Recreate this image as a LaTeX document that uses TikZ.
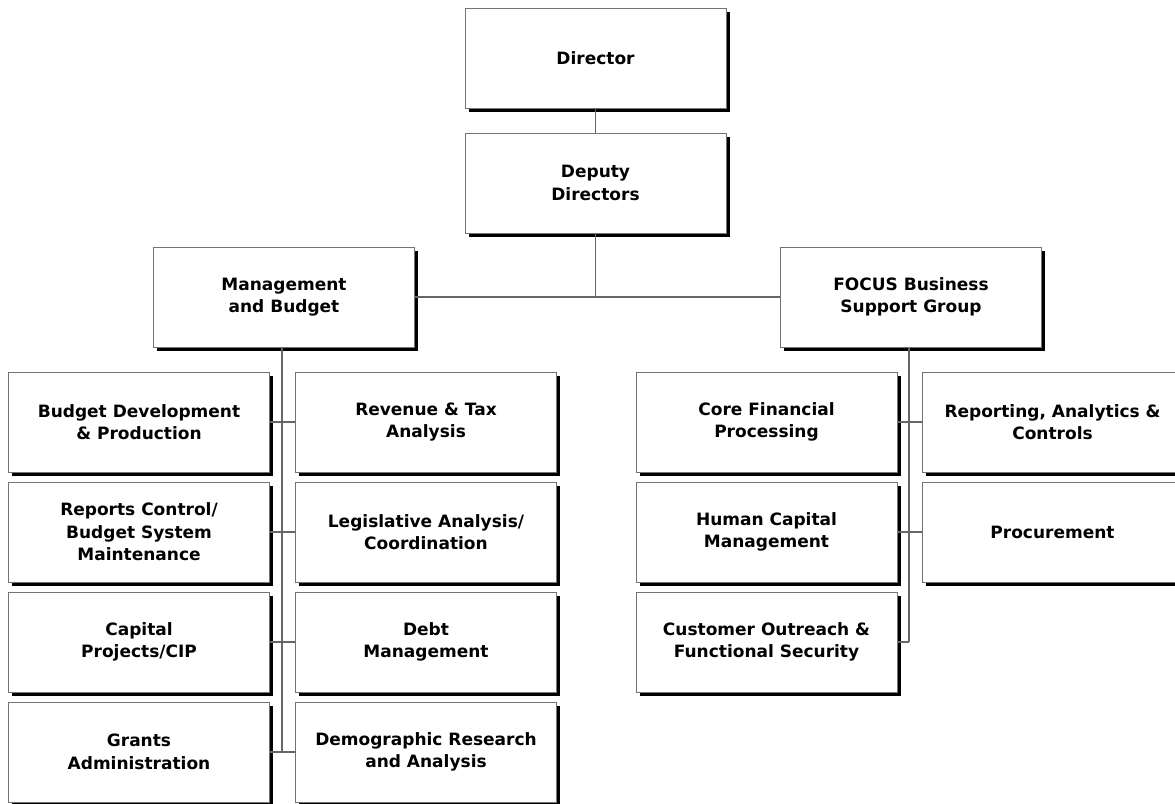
\documentclass[tikz,border=0pt]{standalone}
\usepackage{fontspec}
\setmainfont{DejaVu Sans}
\usetikzlibrary{shadows}
\begin{document}
\begin{tikzpicture}[x=1pt,y=-1pt,
  orgbox/.style={rectangle, draw=black!55, line width=1pt, fill=white,
    minimum width=261pt, minimum height=100pt, inner sep=2pt, align=center,
    font=\bfseries\fontsize{17}{22.5}\selectfont,
    drop shadow={fill=black, opacity=1, shadow xshift=3.5pt, shadow yshift=-3.5pt}},
  link/.style={draw=black!60, line width=1.2pt}]
\useasboundingbox (0,0) rectangle (1175,803);
% top
\node [orgbox] (director) at (595.5,58) {Director};
\node [orgbox] (deputy) at (595.5,183) {Deputy\\Directors};
\node [orgbox] (mgmt) at (284,297) {Management\\and Budget};
\node [orgbox] (focus) at (911,297) {FOCUS Business\\Support Group};
% management and budget
\node [orgbox] (budget) at (139,422) {Budget Development\\\& Production};
\node [orgbox] (reports) at (139,532) {Reports Control/\\Budget System\\Maintenance};
\node [orgbox] (capital) at (139,642) {Capital\\Projects/CIP};
\node [orgbox] (grants) at (139,752) {Grants\\Administration};
\node [orgbox] (revenue) at (426,422) {Revenue \& Tax\\Analysis};
\node [orgbox] (legis) at (426,532) {Legislative Analysis/\\Coordination};
\node [orgbox] (debt) at (426,642) {Debt\\Management};
\node [orgbox] (demog) at (426,752) {Demographic Research\\and Analysis};
% focus
\node [orgbox] (core) at (766.5,422) {Core Financial\\Processing};
\node [orgbox] (human) at (766.5,532) {Human Capital\\Management};
\node [orgbox] (outreach) at (766.5,642) {Customer Outreach \&\\Functional Security};
\node [orgbox] (reporting) at (1052.5,422) {Reporting, Analytics \&\\Controls};
\node [orgbox] (procure) at (1052.5,532) {Procurement};
% connectors
\coordinate (mtrunk) at ([xshift=-2pt]mgmt.south);
\coordinate (ftrunk) at ([xshift=-2pt]focus.south);
\draw [link] (director.south) -- (deputy.north);
\draw [link] (deputy.south) -- (deputy.south |- mgmt.east);
\draw [link] (mgmt.east) -- (focus.west);
\draw [link] (mtrunk) -- (mtrunk |- grants.east);
\draw [link] (budget.east) -- (revenue.west);
\draw [link] (reports.east) -- (legis.west);
\draw [link] (capital.east) -- (debt.west);
\draw [link] (grants.east) -- (demog.west);
\draw [link] (ftrunk) -- (ftrunk |- outreach.east);
\draw [link] (core.east) -- (reporting.west);
\draw [link] (human.east) -- (procure.west);
\draw [link] (outreach.east) -- (outreach.east -| ftrunk);
\end{tikzpicture}
\end{document}
